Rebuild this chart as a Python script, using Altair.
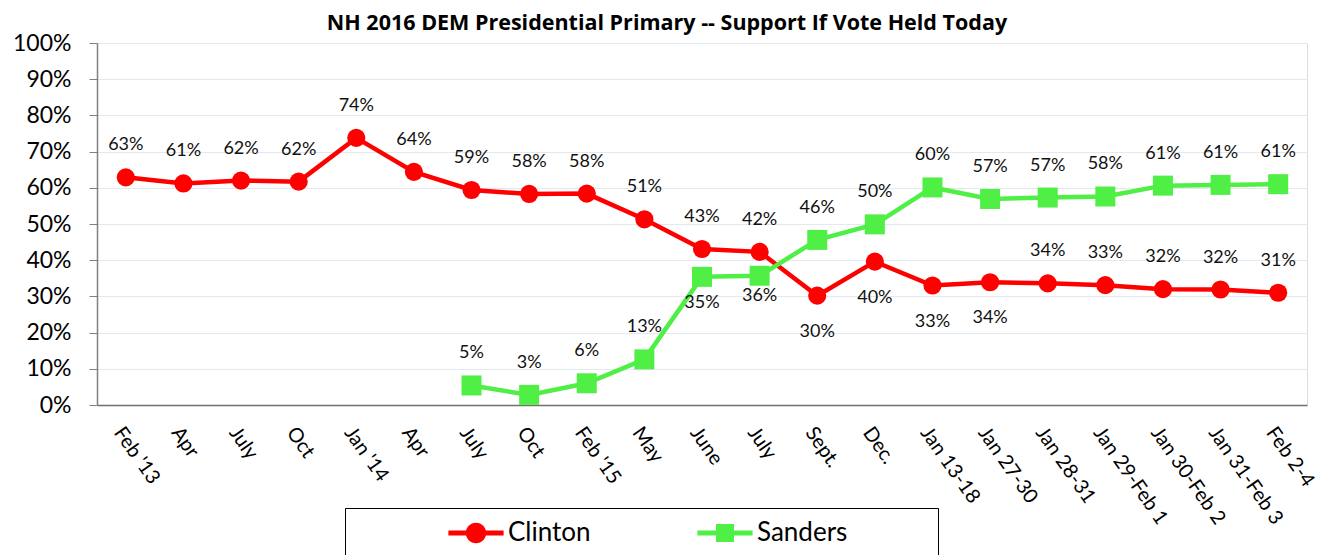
import json
import altair as alt
import pandas as pd

CATEGORIES = ["Feb '13", "Apr", "July", "Oct", "Jan '14", "Apr", "July", "Oct", "Feb '15",
              "May", "June", "July", "Sept.", "Dec.", "Jan 13-18", "Jan 27-30", "Jan 28-31",
              "Jan 29-Feb 1", "Jan 30-Feb 2", "Jan 31-Feb 3", "Feb 2-4"]
CLINTON = [62.9, 61.2, 62.0, 61.7, 73.8, 64.4, 59.4, 58.3, 58.4, 51.3, 43.1, 42.3,
           30.2, 39.6, 33.0, 33.9, 33.6, 33.1, 32.0, 31.9, 31.0]
SANDERS = [None, None, None, None, None, None, 5.4, 2.8, 6.0, 12.6, 35.4, 35.7,
           45.6, 49.9, 60.1, 56.9, 57.3, 57.6, 60.6, 60.8, 61.0]
SERIES = ["Clinton", "Sanders"]
COLORS = ["#FF0000", "#4FEF45"]

# label placement (pixels, negative = above point)
CLINTON_DY = [-32] * 12 + [36, 36, 36, 36] + [-32] * 5
SANDERS_DY = [0] * 6 + [-32] * 4 + [26, 20] + [-32] * 9

rows = []
for i, v in enumerate(CLINTON):
    rows.append({"idx": i, "series": "Clinton", "value": v, "dy": CLINTON_DY[i]})
for i, v in enumerate(SANDERS):
    if v is not None:
        rows.append({"idx": i, "series": "Sanders", "value": v, "dy": SANDERS_DY[i]})
df = pd.DataFrame(rows)

FONT = "Lato"
label_expr = json.dumps(CATEGORIES) + "[datum.value]"

x = alt.X("idx:O", scale=alt.Scale(type="point", padding=0.5, domain=list(range(len(CATEGORIES)))),
          axis=alt.Axis(title=None, labelExpr=label_expr, labelAngle=55, labelAlign="left",
                        labelBaseline="top", labelFont=FONT, labelFontSize=20, labelColor="black",
                        labelPadding=18, ticks=False, grid=False, domainColor="#707070",
                        domainWidth=1.5, labelOverlap=False))
y = alt.Y("value:Q", scale=alt.Scale(domain=[0, 100], nice=False),
          axis=alt.Axis(title=None, values=list(range(0, 101, 10)), labelExpr="datum.value + '%'",
                        labelFont=FONT, labelFontSize=23, labelColor="black", labelPadding=18,
                        tickSize=8, tickColor="#808080", domainColor="#808080", domainWidth=1.5,
                        gridColor="#E3E8F1", gridWidth=1))
color_scale = alt.Scale(domain=SERIES, range=COLORS)

base = alt.Chart(df)
clinton = base.transform_filter(alt.datum.series == "Clinton")
sanders = base.transform_filter(alt.datum.series == "Sanders")

layers = [
    clinton.mark_line(strokeWidth=4.5, color=COLORS[0]).encode(x=x, y=y),
    sanders.mark_line(strokeWidth=4.5, color=COLORS[1]).encode(x=x, y=y),
    clinton.mark_point(shape="circle", filled=True, size=330, opacity=1,
                       color=COLORS[0]).encode(x=x, y=y),
    sanders.mark_point(shape="square", filled=True, size=400, opacity=1,
                       color=COLORS[1]).encode(x=x, y=y),
]

for d in sorted(set(CLINTON_DY + SANDERS_DY)):
    layers.append(
        base.transform_filter(alt.datum.dy == d).transform_calculate(
            lbl="format(datum.value, '.0f') + '%'"
        ).mark_text(font=FONT, fontSize=18, color="#111111", baseline="middle", dy=d).encode(
            x=x, y=y, text="lbl:N"))

CIRCLE_PATH = ("M-2.3,-0.2H2.3V0.2H-2.3Z "
               "M0.85,0A0.85,0.85 0 1,1 -0.85,0A0.85,0.85 0 1,1 0.85,0Z")
SQUARE_PATH = ("M-2.3,-0.2H2.3V0.2H-2.3Z "
               "M-0.75,-0.75H0.75V0.75H-0.75Z")

# legend-only layer: no marks drawn (empty after filter), legend built from the explicit domain
layers.append(base.transform_filter("false").mark_point(filled=True, opacity=1).encode(
    x=x, y=y,
    color=alt.Color("series:N", scale=color_scale,
                    legend=alt.Legend(
                        title="\u00a0", titleOrient="left", titlePadding=90, titleFontSize=8,
                        orient="none", legendX=248, legendY=465, direction="horizontal",
                        columns=2, symbolSize=576, symbolOffset=16, labelOffset=19,
                        labelFont=FONT, labelFontSize=26, labelColor="black", labelLimit=800,
                        strokeColor="black", padding=12, columnPadding=105,
                        symbolStrokeWidth=0, symbolOpacity=1,
                        labelExpr="datum.label == 'Sanders' ? datum.label + '\u2003\u2003\u2003\u2003\u200b' : datum.label")),
    shape=alt.Shape("series:N", scale=alt.Scale(domain=SERIES, range=[CIRCLE_PATH, SQUARE_PATH]))))

chart = alt.layer(*layers).properties(
    width=1210, height=362,
    padding={"left": 89, "top": 35, "right": 15, "bottom": 160},
    autosize=alt.AutoSizeParams(type="none"),
    title=alt.TitleParams(text="NH 2016 DEM Presidential Primary -- Support If Vote Held Today",
                          font="Open Sans", fontSize=21.5, fontWeight="bold", color="black",
                          anchor="middle", frame="group", dx=-35, offset=-2),
).configure_view(stroke=None).configure(background="white")

chart.save("out.html", embed_options={"renderer": "svg", "actions": False})
